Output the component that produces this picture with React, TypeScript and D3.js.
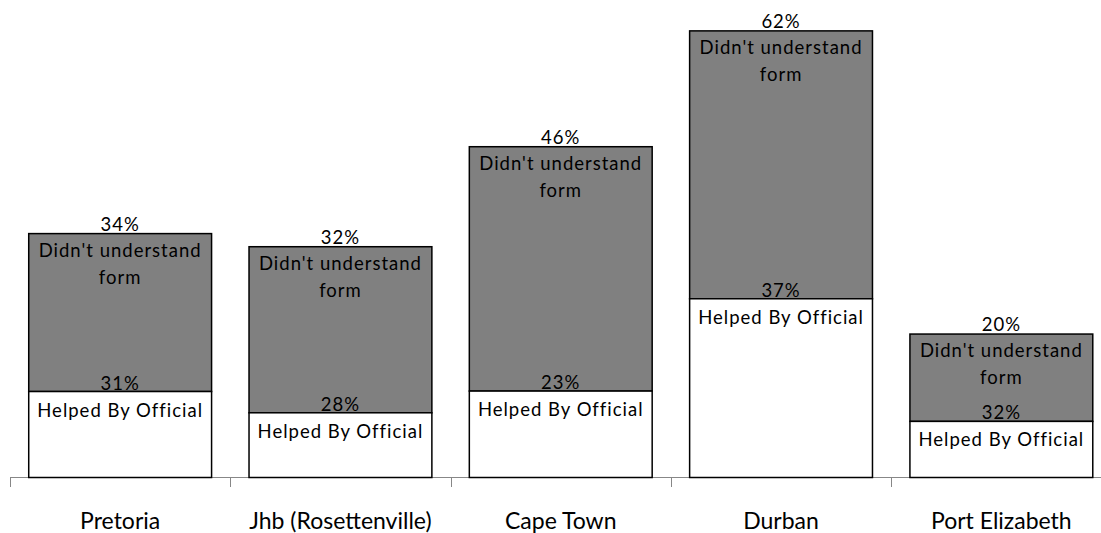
import React from "react";
import * as d3 from "d3";

const cities = ["Pretoria", "Jhb (Rosettenville)", "Cape Town", "Durban", "Port Elizabeth"];
// bar segment sizes (relative units)
const helpedValues = [19.0, 14.3, 19.1, 39.5, 12.4];
const didntValues = [34.9, 36.7, 54.0, 59.2, 19.3];
// printed percentage labels
const helpedLabels = ["31%", "28%", "23%", "37%", "32%"];
const didntLabels = ["34%", "32%", "46%", "62%", "20%"];
const helpedName = "Helped By Official";
const didntNameLines = ["Didn't understand", "form"];

const W = 1101;
const H = 533;
const FONT = "Lato, 'Open Sans', sans-serif";

export default function App() {
  const x = d3
    .scaleBand<string>()
    .domain(cities)
    .range([10, 1111.5])
    .paddingInner(0.17)
    .paddingOuter(0.085);
  const y = d3.scaleLinear().domain([0, 100]).range([477.5, 25]);
  const step = x.step();
  const tickXs = d3.range(cities.length + 1).map((i) => 10 + i * step);

  return (
    <svg
      width={W}
      height={H}
      style={{ position: "absolute", left: 0, top: 0, background: "#fff" }}
      fontFamily={FONT}
    >
      <rect x={0} y={0} width={W} height={H} fill="#fff" />
      {/* axis */}
      <line x1={10} x2={1111.5} y1={477.5} y2={477.5} stroke="#878787" strokeWidth={1} />
      {tickXs.map((tx, i) => (
        <line
          key={"t" + i}
          x1={Math.round(tx) + 0.5}
          x2={Math.round(tx) + 0.5}
          y1={477.5}
          y2={487}
          stroke="#878787"
          strokeWidth={1}
        />
      ))}
      {cities.map((c, i) => {
        const bx = x(c) as number;
        const bw = x.bandwidth();
        const cx = bx + bw / 2;
        const hTop = y(helpedValues[i]);
        const dTop = y(helpedValues[i] + didntValues[i]);
        return (
          <g key={c}>
            <rect
              x={bx}
              y={dTop}
              width={bw}
              height={hTop - dTop}
              fill="#808080"
              stroke="#000"
              strokeWidth={1.5}
            />
            <rect
              x={bx}
              y={hTop}
              width={bw}
              height={y(0) - hTop}
              fill="#fff"
              stroke="#000"
              strokeWidth={1.5}
            />
            <g fontSize={18.5} letterSpacing={1} fill="#000" textAnchor="middle">
              <text x={cx} y={dTop - 3}>{didntLabels[i]}</text>
              <text x={cx} y={dTop + 23}>{didntNameLines[0]}</text>
              <text x={cx} y={dTop + 50}>{didntNameLines[1]}</text>
              <text x={cx} y={hTop - 2}>{helpedLabels[i]}</text>
              <text x={cx} y={hTop + 25}>{helpedName}</text>
            </g>
            <text
              x={cx}
              y={529}
              fontSize={23}
              textAnchor="middle"
              fill="#000"
            >
              {c}
            </text>
          </g>
        );
      })}
    </svg>
  );
}
